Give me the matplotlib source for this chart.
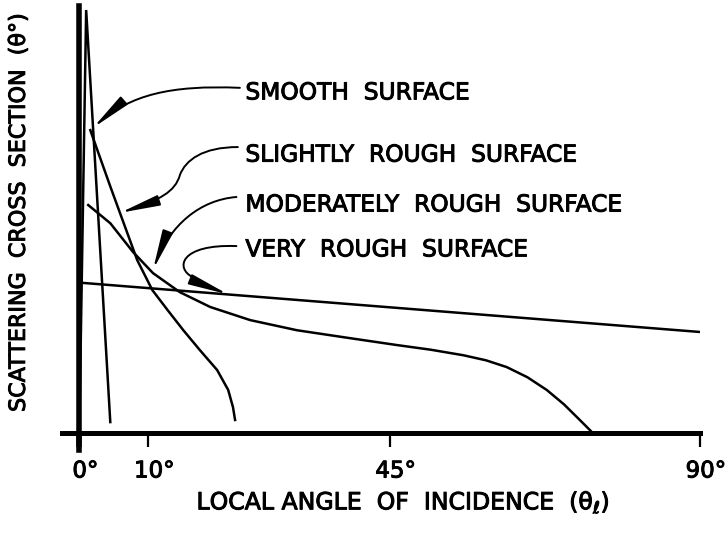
import numpy as np
import matplotlib.pyplot as plt
import matplotlib.patheffects as pe
from matplotlib.patches import FancyArrowPatch
from matplotlib.path import Path
from matplotlib.transforms import ScaledTranslation

# scattering cross section vs local angle of incidence (relative units, 0..100)
smooth_x = [0.0, 1.0, 4.5]
smooth_y = [0.0, 100.0, 2.6]

slight_x = [1.6, 4.5, 8.4, 10.6, 12.8, 15.1, 17.5, 20.0, 21.6, 22.3, 22.6]
slight_y = [71.6, 58.3, 40.9, 33.8, 29.1, 24.3, 19.6, 14.9, 10.2, 6.1, 3.1]

moder_x = [1.3, 4.5, 7.8, 10.7, 14.6, 19.0, 24.8, 31.6, 39.0, 46.1, 51.0, 55.7, 59.0, 62.0, 65.0, 67.8, 70.3, 72.6, 74.5]
moder_y = [53.9, 49.6, 42.8, 37.8, 33.3, 29.8, 26.7, 24.3, 22.5, 20.8, 19.7, 18.4, 17.2, 15.6, 13.2, 10.2, 6.8, 3.1, 0.0]

very_x = [0.5, 90.0]
very_y = [35.5, 23.9]

labels = ["SMOOTH  SURFACE", "SLIGHTLY  ROUGH  SURFACE",
          "MODERATELY  ROUGH  SURFACE", "VERY  ROUGH  SURFACE"]
xticks = [0, 10, 45, 90]
xticklabels = ["0°", "10°", "45°", "90°"]

plt.rcParams['font.family'] = ['DejaVu Sans']
plt.rcParams['mathtext.fontset'] = 'dejavusans'
bold = [pe.withStroke(linewidth=0.7, foreground='black')]

fig = plt.figure(figsize=(7.28, 5.33), dpi=100)
ax = fig.add_axes([0.0852, 0.1557, 0.876, 0.8335])

lw = 1.8
ax.plot(smooth_x, smooth_y, color='black', lw=lw, solid_joinstyle='miter')
ax.plot(slight_x, slight_y, color='black', lw=lw)
ax.plot(moder_x, moder_y, color='black', lw=lw)
ax.plot(very_x, very_y, color='black', lw=lw)

ax.set_xlim(-2.5, 90)
ax.set_ylim(-4, 101)

for s in ['top', 'right']:
    ax.spines[s].set_visible(False)
ax.spines['left'].set_position(('data', 0))
ax.spines['bottom'].set_position(('data', 0))
ax.spines['left'].set_linewidth(4)
ax.spines['bottom'].set_linewidth(3.6)
ax.set_yticks([])
ax.set_xticks(xticks)
ax.set_xticklabels(xticklabels, fontsize=16.5)
ax.tick_params(axis='x', direction='out', length=10, width=1.6, pad=9)
shift = ScaledTranslation(0.06, 0, fig.dpi_scale_trans)
for t in ax.get_xticklabels():
    t.set_transform(t.get_transform() + shift)
    t.set_path_effects(bold)
ax.xaxis.get_major_ticks()[0].tick1line.set_markeredgewidth(4)

ax.set_xlabel("LOCAL ANGLE  OF  INCIDENCE  (θ$_{\\ell}$)", fontsize=17,
              path_effects=bold)
ax.xaxis.set_label_coords(0.535, -0.088)
ax.set_ylabel("SCATTERING  CROSS  SECTION  (θ°)", fontsize=16,
              path_effects=bold)
ax.yaxis.set_label_coords(-0.052, 0.535)

# labels with curved leader arrows
text_x = 24.1
text_y = [80.4, 65.7, 53.9, 43.3]
for lab, ty in zip(labels, text_y):
    ax.text(text_x, ty, lab, fontsize=16.8, va='center', ha='left',
            path_effects=bold)

# arrow tips sit on the curves
tip_smooth = (2.0, np.interp(2.0, smooth_x[1:], smooth_y[1:]))
tip_slight = (5.9, np.interp(5.9, slight_x, slight_y))
tip_moder = (10.7, np.interp(10.7, moder_x, moder_y) + 0.8)
tip_very = (21.6, np.interp(21.6, very_x, very_y))

C4 = Path.CURVE4
paths = [
    Path([(23.3, 81.6), (13.2, 82.3), (7.4, 79.9), tip_smooth],
         [Path.MOVETO, C4, C4, C4]),
    Path([(23.0, 67.6), (17.9, 67.6), (15.4, 64.5), (14.6, 61.0),
          (13.9, 57.0), (11.7, 55.1), tip_slight],
         [Path.MOVETO, C4, C4, C4, C4, C4, C4]),
    Path([(22.8, 55.8), (17.5, 55.1), (13.2, 49.2), tip_moder],
         [Path.MOVETO, C4, C4, C4]),
    Path([(22.8, 44.2), (14.6, 44.7), (13.9, 39.0), (16.4, 36.9),
          (18.3, 35.2), (19.7, 34.0), tip_very],
         [Path.MOVETO, C4, C4, C4, C4, C4, C4]),
]
for p in paths:
    arr = FancyArrowPatch(path=p, arrowstyle='-|>,head_length=2.4,head_width=0.32',
                          mutation_scale=10, color='black', lw=1.4)
    ax.add_patch(arr)

fig.savefig('out.png', dpi=100)
